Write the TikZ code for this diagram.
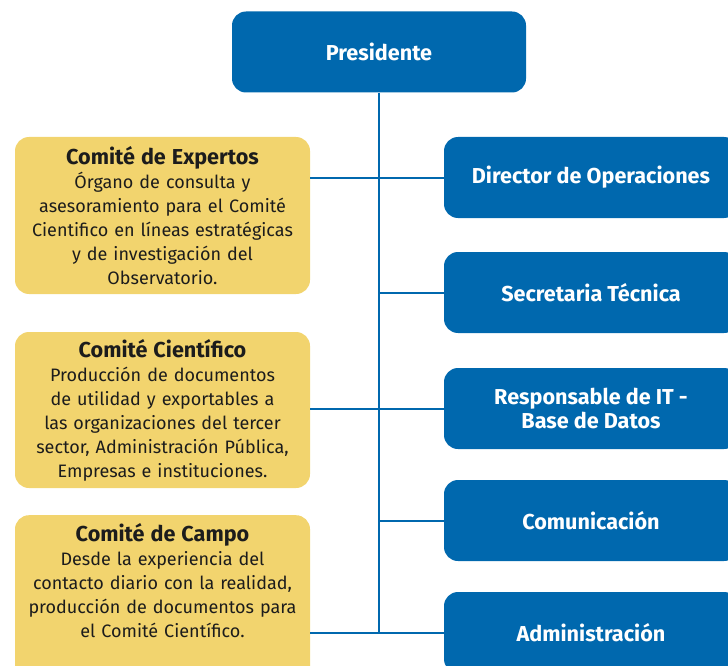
\documentclass[tikz,border=0pt]{standalone}
\usepackage{fontspec}
\setmainfont{Fira Sans}

\definecolor{orgblue}{HTML}{0068AE}
\definecolor{orgyellow}{HTML}{F2D46E}
\definecolor{orgtext}{HTML}{1C1C1C}

\tikzset{
    bluebox/.style={rectangle, rounded corners=14pt, fill=orgblue, text=white,
        minimum width=294pt, minimum height=81pt, align=center,
        font=\fontsize{21.6}{24}\selectfont\bfseries},
    yellowbox/.style={rectangle, rounded corners=14pt, fill=orgyellow, text=orgtext,
        text width=280pt, inner xsep=7.5pt, align=center,
        font=\fontsize{18}{24}\selectfont},
    link/.style={draw=orgblue, line width=2pt}
}
\newcommand{\comtitle}[1]{{\fontsize{21.6}{25}\selectfont\bfseries #1}}

\begin{document}
\begin{tikzpicture}[x=1pt, y=-1pt]

    \path[use as bounding box, clip] (0,0) rectangle (728,666);

    % Presidente
    \node[bluebox] (pres) at (379,52) {Presidente};

    % right column
    \node[bluebox] (dirop) at (591,177.5) {Director de Operaciones};
    \node[bluebox] (sectec) at (591,292.5) {Secretaria Técnica};
    \node[bluebox] (respit) at (591,408.5) {Responsable de IT -\\Base de Datos};
    \node[bluebox] (comun) at (591,520.5) {Comunicación};
    \node[bluebox] (admin) at (591,632.5) {Administración};

    % Comite de Expertos
    \node[yellowbox, minimum height=157pt] (expertos) at (162.5,215.5) {\comtitle{Comité de Expertos}\\
        Órgano de consulta y\\
        asesoramiento para el Comité\\
        Cientifico en líneas estratégicas\\
        y de investigación del\\
        Observatorio.};

    % Comite Cientifico
    \node[yellowbox, minimum height=156pt] (cientifico) at (162.5,410) {\comtitle{Comité Científico}\\
        Producción de documentos\\
        de utilidad y exportables a\\
        las organizaciones del tercer\\
        sector, Administración Pública,\\
        Empresas e instituciones.};

    % Comite de Campo
    \node[yellowbox, anchor=north, inner ysep=8pt, text depth=135pt] (campo) at (162.5,515) {\comtitle{Comité de Campo}\\
        Desde la experiencia del\\
        contacto diario con la realidad,\\
        producción de documentos para\\
        el Comité Científico.};

    % trunk
    \draw[link] (pres.south) -- (pres.south |- admin.west);

    % branches
    \draw[link] (expertos.east |- dirop.west) -- (dirop.west);
    \draw[link] (pres.south |- sectec.west) -- (sectec.west);
    \draw[link] (cientifico.east |- respit.west) -- (respit.west);
    \draw[link] (pres.south |- comun.west) -- (comun.west);
    \draw[link] (campo.east |- admin.west) -- (admin.west);

\end{tikzpicture}
\end{document}
